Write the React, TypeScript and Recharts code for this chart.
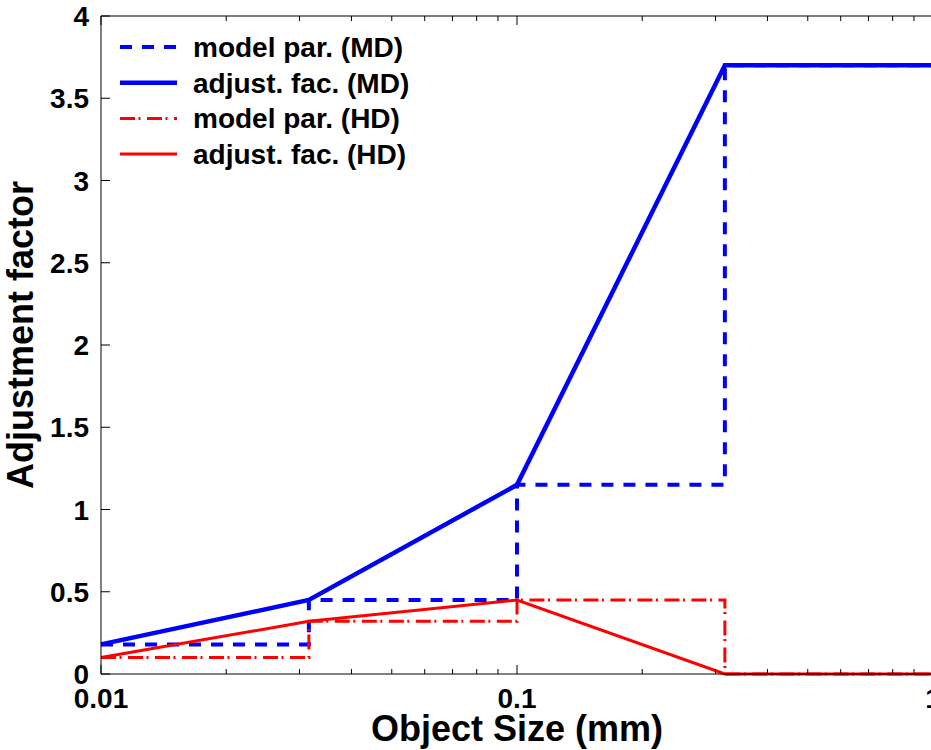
import { LineChart, Line, XAxis, YAxis, Legend } from "recharts";

// object size (mm), log-spaced bin edges
const sizes = [0.01, 0.0316, 0.1, 0.316, 1];
const modelParMD = [0.18, 0.45, 1.15, 3.7, 3.7];
const adjustFacMD = [0.18, 0.45, 1.15, 3.7, 3.7];
const modelParHD = [0.1, 0.32, 0.45, 0, 0];
const adjustFacHD = [0.1, 0.32, 0.45, 0, 0];

const xTicks = [
  0.01, 0.02, 0.03, 0.04, 0.05, 0.06, 0.07, 0.08, 0.09,
  0.1, 0.2, 0.3, 0.4, 0.5, 0.6, 0.7, 0.8, 0.9, 1,
];
const xMajor = [0.01, 0.1, 1];
const yTicks = [0, 0.5, 1, 1.5, 2, 2.5, 3, 3.5, 4];

const rows = sizes.map((x, i) => ({
  x,
  modelMD: modelParMD[i],
  adjMD: adjustFacMD[i],
  modelHD: modelParHD[i],
  adjHD: adjustFacHD[i],
}));

const SERIES = [
  { key: "modelMD", name: "model par. (MD)", color: "#0000ff", width: 4, dash: "12 10", type: "stepAfter" },
  { key: "adjMD", name: "adjust. fac. (MD)", color: "#0000ff", width: 4.5, dash: undefined, type: "linear" },
  { key: "modelHD", name: "model par. (HD)", color: "#ff0000", width: 3, dash: "15 3.5 2 6.5", type: "stepAfter" },
  { key: "adjHD", name: "adjust. fac. (HD)", color: "#ff0000", width: 3, dash: undefined, type: "linear" },
];

const FONT = "'Liberation Sans', Arial, sans-serif";

const BottomTick = (props: any) => {
  const { x, y, payload } = props;
  const major = xMajor.includes(payload.value);
  return (
    <g>
      <line x1={x} y1={y} x2={x} y2={y - (major ? 9 : 5)} stroke="#000" />
      {major && (
        <text x={x} y={y + 34} textAnchor="middle" fontSize={28} fontWeight="bold" fontFamily={FONT} fill="#000">
          {payload.value}
        </text>
      )}
    </g>
  );
};

const TopTick = (props: any) => {
  const { x, y, payload } = props;
  const major = xMajor.includes(payload.value);
  return <line x1={x} y1={y} x2={x} y2={y + (major ? 9 : 5)} stroke="#000" />;
};

const LeftTick = (props: any) => {
  const { x, y, payload } = props;
  return (
    <g>
      <line x1={x} y1={y} x2={x + 9} y2={y} stroke="#000" />
      <text x={x - 12} y={y + 10} textAnchor="end" fontSize={28} fontWeight="bold" fontFamily={FONT} fill="#000">
        {payload.value}
      </text>
    </g>
  );
};

const RightTick = (props: any) => {
  const { x, y } = props;
  return <line x1={x} y1={y} x2={x - 9} y2={y} stroke="#000" />;
};

const renderLegend = () => (
  <svg width={330} height={150}>
    {SERIES.map((s, i) => (
      <g key={s.key} transform={`translate(0, ${i * 35.7})`}>
        <line x1={8} x2={65} y1={19} y2={19} stroke={s.color} strokeWidth={s.width} strokeDasharray={s.dash} />
        <text x={81} y={29} fontSize={28} fontWeight="bold" fontFamily={FONT} fill="#000">
          {s.name}
        </text>
      </g>
    ))}
  </svg>
);

const renderYLabel = (p: any) => {
  const vb = p.viewBox;
  const cx = vb.x + 21;
  const cy = vb.y + vb.height / 2 - 10;
  return (
    <text
      x={cx}
      y={cy + 12}
      transform={`rotate(-90, ${cx}, ${cy})`}
      textAnchor="middle"
      fontSize={36}
      fontWeight="bold"
      fontFamily={FONT}
      fill="#000"
    >
      Adjustment factor
    </text>
  );
};

const renderXLabel = (p: any) => {
  const vb = p.viewBox;
  return (
    <text
      x={vb.x + vb.width / 2}
      y={741}
      textAnchor="middle"
      fontSize={36}
      fontWeight="bold"
      fontFamily={FONT}
      fill="#000"
    >
      Object Size (mm)
    </text>
  );
};

export default function App() {
  return (
    <div style={{ position: "absolute", left: 0, top: 0, width: 931, height: 750, overflow: "hidden", background: "#fff" }}>
      <LineChart width={950} height={750} data={rows} margin={{ top: 0, right: 0, bottom: 0, left: 0 }}>
        <XAxis
          dataKey="x"
          type="number"
          scale="log"
          domain={[0.01, 1]}
          ticks={xTicks}
          interval={0}
          height={76}
          tickSize={0}
          tickMargin={0}
          tick={BottomTick}
          axisLine={{ stroke: "#000" }}
          label={{ content: renderXLabel }}
        />
        <XAxis
          xAxisId="top"
          orientation="top"
          dataKey="x"
          type="number"
          scale="log"
          domain={[0.01, 1]}
          ticks={xTicks}
          interval={0}
          height={16}
          tickSize={0}
          tickMargin={0}
          tick={TopTick}
          axisLine={{ stroke: "#000" }}
        />
        <YAxis
          type="number"
          domain={[0, 4]}
          ticks={yTicks}
          interval={0}
          width={101}
          tickSize={0}
          tickMargin={0}
          tick={LeftTick}
          axisLine={{ stroke: "#000" }}
          label={{ content: renderYLabel }}
        />
        <YAxis
          yAxisId="right"
          orientation="right"
          type="number"
          domain={[0, 4]}
          ticks={yTicks}
          interval={0}
          width={17}
          tickSize={0}
          tickMargin={0}
          tick={RightTick}
          axisLine={{ stroke: "#000" }}
        />
        <Legend
          layout="vertical"
          align="center"
          verticalAlign="middle"
          content={renderLegend}
          wrapperStyle={{ position: "absolute", left: 112, top: 28, width: 330, height: 150 }}
        />
        {SERIES.map((s) => (
          <Line
            key={s.key}
            dataKey={s.key}
            name={s.name}
            type={s.type as any}
            stroke={s.color}
            strokeWidth={s.width}
            strokeDasharray={s.dash}
            dot={false}
            activeDot={false}
            isAnimationActive={false}
          />
        ))}
      </LineChart>
    </div>
  );
}
